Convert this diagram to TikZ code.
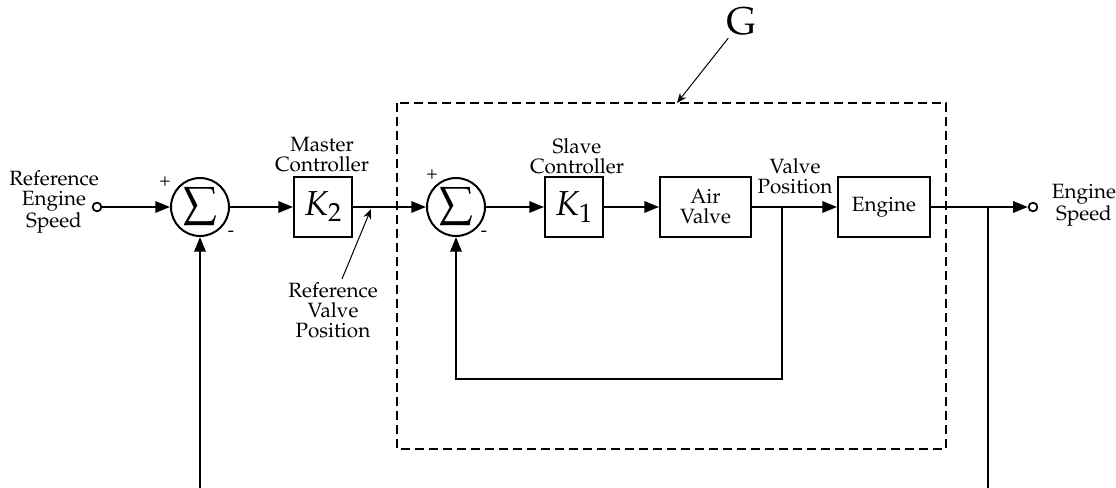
\documentclass[tikz,border=0pt]{standalone}
\usepackage[T1]{fontenc}
\usepackage{mathpazo}
\usetikzlibrary{arrows.meta,calc}
\begin{document}
\begin{tikzpicture}[x=0.75pt,y=-0.75pt,
  line width=1.5pt,
  arr/.style={-{Triangle[length=11pt,width=8.5pt]}},
  thinarr/.style={line width=0.75pt,-{Stealth[length=7.5pt,width=6pt]}},
  lbl/.style={align=center,font=\fontsize{15.5}{15}\selectfont,inner sep=0pt},
  sgn/.style={font=\fontsize{14}{14}\selectfont,inner sep=0pt},
  sumnode/.style={circle,draw,minimum size=43.5pt,inner sep=0pt,font=\fontsize{32}{32}\selectfont},
  blk/.style={rectangle,draw,minimum height=45pt,inner sep=0pt},
  gain/.style={blk,minimum width=43.5pt,font=\fontsize{26}{26}\selectfont},
  term/.style={circle,draw,line width=1.3pt,minimum size=6.5pt,inner sep=0pt,fill=white},
  dashbox/.style={line width=1.5pt,dash pattern=on 6.75pt off 3.75pt},
]
\useasboundingbox (0,0) rectangle (1116,488);

% dashed group box
\draw[dashbox] (397,103) rectangle (946,449);
\coordinate (gt) at (677,103);
\node[font=\fontsize{29}{29}\selectfont,inner sep=1pt] (G) at (741,22) {G};
\draw[thinarr] (G) -- (gt);

% nodes
\node[term] (in) at (97,207) {};
\node[lbl] (inl) at (54,202) {Reference\\Engine\\Speed};
\node[sumnode] (s1) at (200,207) {$\sum$};
\node[sgn] (s1p) at (165,182) {+};
\node[sgn] (s1m) at (231,234) {-};
\node[gain] (k2) at (323,207) {$K_2$};
\node[lbl] (mc) at (322,155) {Master\\Controller};
\node[lbl] (rvp) at (333,310) {Reference\\Valve\\Position};
\coordinate (rvs) at (342,279);
\coordinate (rvt) at (371,209);

\node[sumnode] (s2) at (456,207) {$\sum$};
\node[sgn] (s2p) at (432,175) {+};
\node[sgn] (s2m) at (484,234) {-};
\node[gain] (k1) at (574,207) {$K_1$};
\node[lbl] (sc) at (577,156) {Slave\\Controller};
\node[blk,lbl,minimum width=68.25pt,minimum height=45pt] (av) at (705.5,207) {Air\\Valve};
\node[lbl] (vp) at (795,176) {Valve\\Position};
\node[blk,lbl,minimum width=69pt,minimum height=45pt] (eng) at (884,207) {Engine};
\node[term] (out) at (1033,207) {};
\node[lbl] (outl) at (1084,205) {Engine\\Speed};

% forward path
\draw[arr] (in) -- (s1);
\draw[arr] (s1) -- (k2);
\draw[arr] (k2) -- (s2);
\draw[arr] (s2) -- (k1);
\draw[arr] (k1) -- (av);
\draw[arr] (av) -- (eng);
\draw[arr] (eng) -- (out);
\draw[thinarr] (rvs) -- (rvt);

% inner feedback
\coordinate (b1) at (782,207);
\coordinate (f1) at (782,379);
\draw[arr] (b1) -- (f1) -| (s2.south);

% outer feedback (cut at the bottom edge)
\coordinate (b2) at (988,207);
\coordinate (e2) at (988,490);
\coordinate (e1) at (200,490);
\draw (b2) -- (e2);
\draw[arr] (e1) -- (s1.south);
\end{tikzpicture}
\end{document}
